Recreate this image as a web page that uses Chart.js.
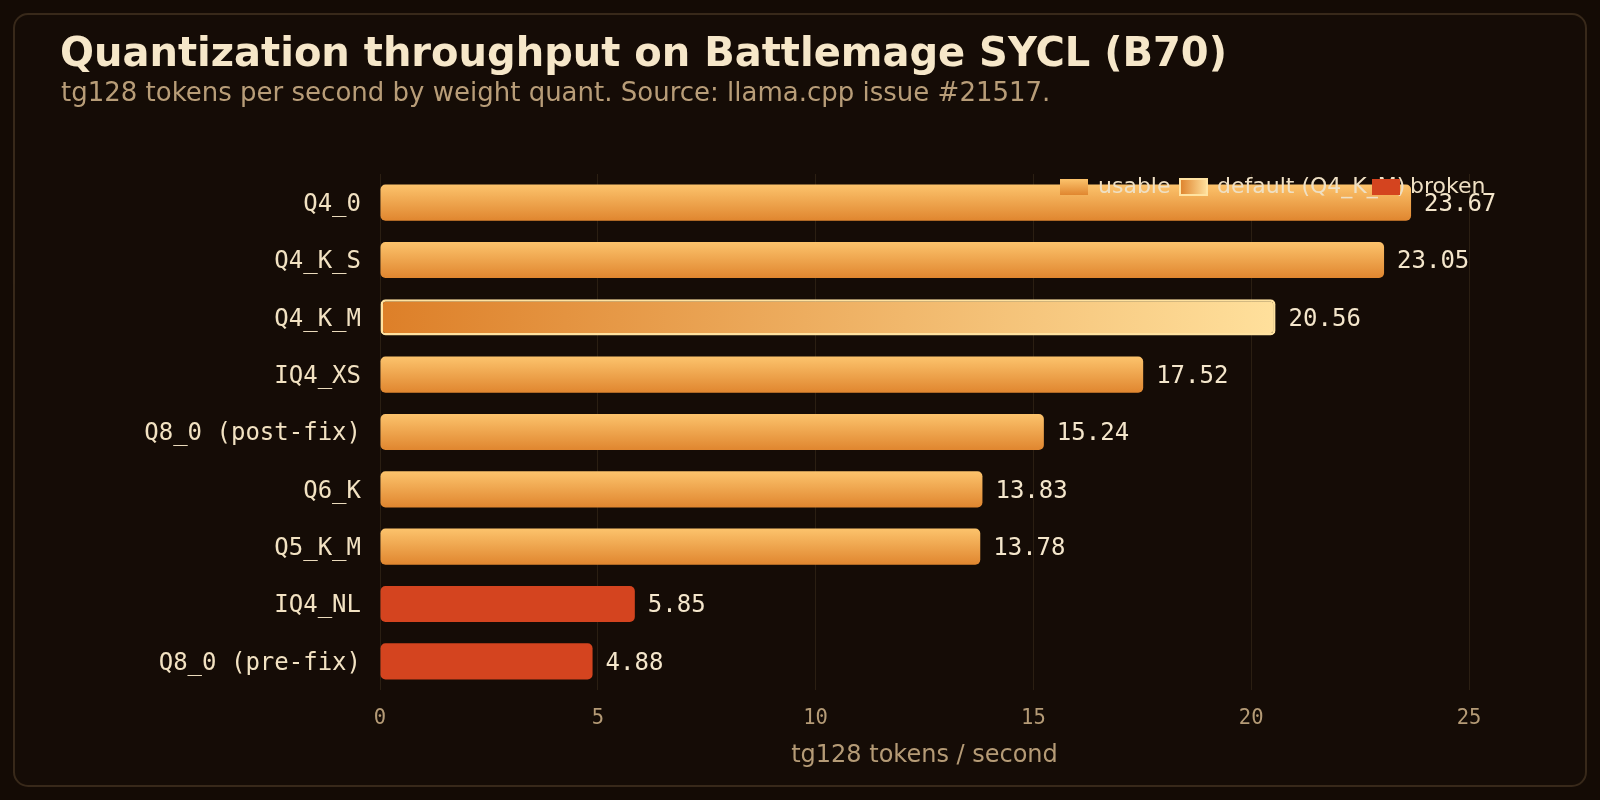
<!DOCTYPE html>
<html>
<head>
<meta charset="utf-8">
<script src="https://cdn.jsdelivr.net/npm/chart.js@4/dist/chart.umd.min.js"></script>
<style>
  html, body { margin: 0; padding: 0; background: #140b05; }
  #wrap { width: 1600px; height: 800px; }
</style>
</head>
<body>
<div id="wrap"><canvas id="c" width="1600" height="800"></canvas></div>
<script>
const categories = ['Q4_0', 'Q4_K_S', 'Q4_K_M', 'IQ4_XS', 'Q8_0 (post-fix)', 'Q6_K', 'Q5_K_M', 'IQ4_NL', 'Q8_0 (pre-fix)'];
const values = [23.67, 23.05, 20.56, 17.52, 15.24, 13.83, 13.78, 5.85, 4.88];
const status = ['usable', 'usable', 'default', 'usable', 'usable', 'usable', 'usable', 'broken', 'broken'];
const xTicks = [0, 5, 10, 15, 20, 25];
const legendLabels = ['usable', 'default (Q4_K_M)', 'broken'];
const titleText = 'Quantization throughput on Battlemage SYCL (B70)';
const subtitleText = 'tg128 tokens per second by weight quant. Source: llama.cpp issue #21517.';
const xAxisTitle = 'tg128 tokens / second';

const MONO = '"DejaVu Sans Mono", monospace';
const SANS = '"DejaVu Sans", sans-serif';
const CREAM = '#f4e6cb';
const TAN = '#b59b76';
const BROKEN = '#d4441f';

function usableGrad(ctx, y0, y1) {
  const g = ctx.createLinearGradient(0, y0, 0, y1);
  g.addColorStop(0, '#fcc36c');
  g.addColorStop(1, '#e0862f');
  return g;
}
function defaultGrad(ctx, x0, x1) {
  const g = ctx.createLinearGradient(x0, 0, x1, 0);
  g.addColorStop(0, '#dd7f28');
  g.addColorStop(1, '#ffe09c');
  return g;
}

function barFill(context) {
  const chart = context.chart;
  const i = context.dataIndex;
  const st = status[i];
  if (st === 'broken') return BROKEN;
  if (!chart.chartArea || !chart.scales.y) return '#eea048';
  const ctx = chart.ctx;
  if (st === 'default') {
    const x0 = chart.scales.x.getPixelForValue(0);
    const x1 = chart.scales.x.getPixelForValue(values[i]);
    return defaultGrad(ctx, x0, x1);
  }
  const yc = chart.scales.y.getPixelForValue(i);
  return usableGrad(ctx, yc - 18, yc + 18);
}

const framePlugin = {
  id: 'frame',
  beforeDraw(chart) {
    const ctx = chart.ctx;
    ctx.save();
    ctx.fillStyle = '#140b05';
    ctx.fillRect(0, 0, chart.width, chart.height);
    ctx.beginPath();
    ctx.roundRect(14, 14, 1572, 772, 14);
    ctx.fillStyle = '#150c06';
    ctx.fill();
    ctx.lineWidth = 2;
    ctx.strokeStyle = '#38291a';
    ctx.stroke();
    ctx.textAlign = 'left';
    ctx.textBaseline = 'alphabetic';
    ctx.fillStyle = '#f6e7c9';
    ctx.font = 'bold 40px ' + SANS;
    ctx.fillText(titleText, 60, 66);
    ctx.fillStyle = '#b89d78';
    ctx.font = '26px ' + SANS;
    ctx.fillText(subtitleText, 61, 101);
    ctx.restore();
  },
  afterDatasetsDraw(chart) {
    const ctx = chart.ctx;
    const meta = chart.getDatasetMeta(0);
    ctx.save();
    ctx.font = '24px ' + MONO;
    ctx.fillStyle = CREAM;
    ctx.textAlign = 'left';
    ctx.textBaseline = 'middle';
    meta.data.forEach((el, i) => {
      ctx.fillText(values[i].toFixed(2), el.x + 13, el.y + 2);
    });
    // legend
    const ly = 187;
    const bh = 16, bw = 28;
    const boxes = [1060, 1179, 1372];
    ctx.font = '22px ' + SANS;
    legendLabels.forEach((lab, k) => {
      const bx = boxes[k];
      const st = ['usable', 'default', 'broken'][k];
      if (st === 'usable') {
        ctx.fillStyle = usableGrad(ctx, ly - bh / 2, ly + bh / 2);
        ctx.fillRect(bx, ly - bh / 2, bw, bh);
      } else if (st === 'default') {
        ctx.fillStyle = defaultGrad(ctx, bx, bx + bw);
        ctx.fillRect(bx, ly - bh / 2, bw, bh);
        ctx.strokeStyle = '#ffe3a2';
        ctx.lineWidth = 2;
        ctx.strokeRect(bx + 1, ly - bh / 2, bw - 1, bh);
      } else {
        ctx.fillStyle = BROKEN;
        ctx.fillRect(bx, ly - bh / 2, bw, bh);
      }
      ctx.fillStyle = '#efe0c4';
      ctx.fillText(lab, bx + bw + 10, ly);
    });
    ctx.restore();
  }
};

new Chart(document.getElementById('c'), {
  type: 'bar',
  data: {
    labels: categories,
    datasets: [{
      data: values,
      backgroundColor: barFill,
      borderColor: (c) => status[c.dataIndex] === 'default' ? '#ffe2a0' : 'rgba(0,0,0,0)',
      borderWidth: (c) => status[c.dataIndex] === 'default' ? 2.5 : 0,
      borderSkipped: false,
      borderRadius: 5,
      categoryPercentage: 1,
      barPercentage: 0.63
    }]
  },
  options: {
    indexAxis: 'y',
    responsive: false,
    animation: false,
    devicePixelRatio: 1,
    layout: { padding: { top: 174, bottom: 30, left: 61, right: 131 } },
    plugins: {
      legend: { display: false },
      title: { display: false },
      tooltip: { enabled: false }
    },
    scales: {
      x: {
        min: 0,
        max: 25,
        afterFit: (s) => { s.height = 80; },
        afterBuildTicks: (s) => { s.ticks = xTicks.map(v => ({ value: v })); },
        grid: { color: '#2b1f12', lineWidth: 1, drawTicks: false },
        border: { display: false },
        ticks: {
          color: TAN,
          font: { family: MONO, size: 20.5 },
          padding: 16
        },
        title: {
          display: true,
          text: xAxisTitle,
          color: TAN,
          font: { family: SANS, size: 24 },
          padding: { top: 0, bottom: 0 }
        }
      },
      y: {
        afterFit: (s) => { s.width = 319; },
        grid: { display: false, drawTicks: false },
        border: { display: false },
        ticks: {
          color: '#f2e2c2',
          font: { family: MONO, size: 24 },
          padding: 19,
          labelOffset: 2
        }
      }
    }
  },
  plugins: [framePlugin]
});
</script>
</body>
</html>
